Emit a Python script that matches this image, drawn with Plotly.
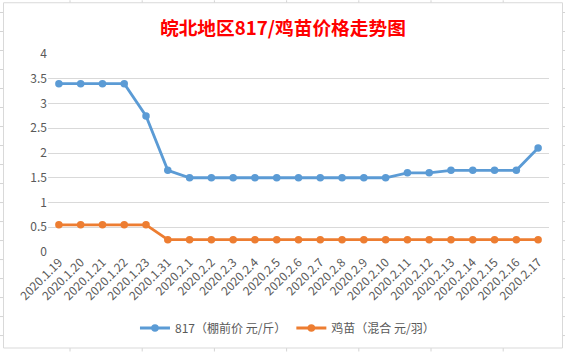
import plotly.graph_objects as go

categories = ["2020.1.19", "2020.1.20", "2020.1.21", "2020.1.22", "2020.1.23", "2020.1.31",
              "2020.2.1", "2020.2.2", "2020.2.3", "2020.2.4", "2020.2.5", "2020.2.6",
              "2020.2.7", "2020.2.8", "2020.2.9", "2020.2.10", "2020.2.11", "2020.2.12",
              "2020.2.13", "2020.2.14", "2020.2.15", "2020.2.16", "2020.2.17"]
series_817 = [3.4, 3.4, 3.4, 3.4, 2.75, 1.65, 1.5, 1.5, 1.5, 1.5, 1.5, 1.5,
              1.5, 1.5, 1.5, 1.5, 1.6, 1.6, 1.65, 1.65, 1.65, 1.65, 2.1]
series_chick = [0.55, 0.55, 0.55, 0.55, 0.55, 0.25, 0.25, 0.25, 0.25, 0.25, 0.25, 0.25,
                0.25, 0.25, 0.25, 0.25, 0.25, 0.25, 0.25, 0.25, 0.25, 0.25, 0.25]
name_817 = "817（棚前价 元/斤）"
name_chick = "鸡苗（混合 元/羽）"
title_text = "皖北地区817/鸡苗价格走势图"
y_ticks = [0, 0.5, 1, 1.5, 2, 2.5, 3, 3.5, 4]

W, H = 565, 353
L, R, T, B = 48, 549, 54, 253  # plot area in pixels
CL, CR, CT, CB = 3.5, 562.5, 2.5, 349.5  # chart area border

def px(x):
    return (x - L) / (R - L)

def py(y):
    return (B - y) / (B - T)

FONT = "Microsoft YaHei, Noto Sans CJK SC, sans-serif"
GRID = "#D9D9D9"
TXT = "#595959"

fig = go.Figure()
fig.add_trace(go.Scatter(x=categories, y=series_817, name=name_817, mode="lines+markers",
                         line=dict(color="#5B9BD5", width=2.8),
                         marker=dict(color="#5B9BD5", size=7.5)))
fig.add_trace(go.Scatter(x=categories, y=series_chick, name=name_chick, mode="lines+markers",
                         line=dict(color="#ED7D31", width=2.8),
                         marker=dict(color="#ED7D31", size=7.5)))

shapes = []
cell = dict(color="#D4D4D4", width=1)
# spreadsheet cell grid visible around the chart
for k in range(19):
    y = 12.3 + 19.1 * k
    shapes.append(dict(type="line", xref="paper", yref="paper", layer="below",
                       x0=px(0), x1=px(CL), y0=py(y), y1=py(y), line=cell))
    shapes.append(dict(type="line", xref="paper", yref="paper", layer="below",
                       x0=px(CR), x1=px(W), y0=py(y), y1=py(y), line=cell))
for k in range(8):
    x = 70 + 72.2 * k
    shapes.append(dict(type="line", xref="paper", yref="paper", layer="below",
                       x0=px(x), x1=px(x), y0=py(0), y1=py(CT), line=cell))
    shapes.append(dict(type="line", xref="paper", yref="paper", layer="below",
                       x0=px(x), x1=px(x), y0=py(CB), y1=py(H), line=cell))
# chart area border
shapes.append(dict(type="rect", xref="paper", yref="paper", layer="below",
                   x0=px(CL), x1=px(CR), y0=py(CT), y1=py(CB),
                   fillcolor="rgba(0,0,0,0)", line=dict(color="#D9D9D9", width=1)))

fig.update_layout(
    width=W, height=H,
    margin=dict(l=L, r=W - R, t=T, b=H - B, pad=0),
    paper_bgcolor="white", plot_bgcolor="rgba(0,0,0,0)",
    font=dict(family=FONT, size=12, color=TXT),
    shapes=shapes,
    showlegend=True,
    legend=dict(orientation="h", x=0.478, xanchor="center", y=py(328), yanchor="middle",
                font=dict(family=FONT, size=12, color=TXT), itemwidth=30,
                bgcolor="rgba(0,0,0,0)"),
    annotations=[dict(text="<b>" + title_text + "</b>", xref="paper", yref="paper",
                      x=px(282.5), y=py(26), xanchor="center", yanchor="middle",
                      showarrow=False,
                      font=dict(family=FONT, size=18.7, color="#FF0000"))],
)
fig.update_xaxes(type="category", range=[-0.5, len(categories) - 0.5],
                 showgrid=False, showline=False, zeroline=False,
                 tickangle=-45, tickfont=dict(family=FONT, size=12, color=TXT),
                 ticks="", ticklen=0)
fig.update_yaxes(range=[0, 4], tickvals=y_ticks, ticktext=[f"{v:g}" for v in y_ticks],
                 showgrid=True, gridcolor=GRID, gridwidth=1, zeroline=False,
                 showline=False, ticks="", tickfont=dict(family=FONT, size=12, color=TXT))

fig.write_html("out.html")
